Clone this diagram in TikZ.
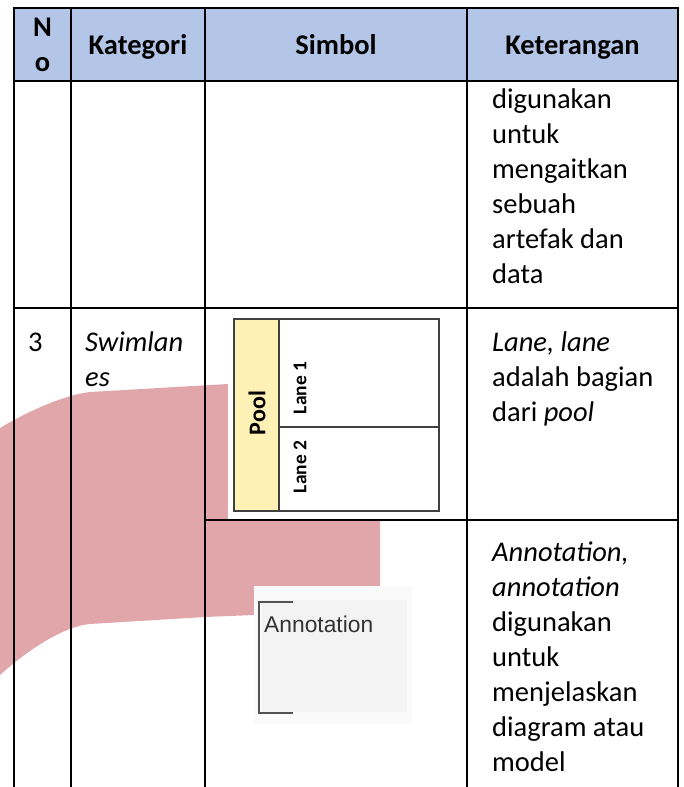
\documentclass[tikz,border=0pt]{standalone}
\usepackage{fontspec}
\setmainfont{Carlito}
\newfontfamily\arialfont{Liberation Sans}
\definecolor{headblue}{HTML}{B4C6E7}
\definecolor{ribbon}{RGB}{225,166,169}
\definecolor{poolyellow}{HTML}{FFF1B5}
\definecolor{symline}{HTML}{404040}
\definecolor{notegray}{HTML}{F3F3F3}
\begin{document}
\begin{tikzpicture}[x=1pt,y=-1pt,
  rule/.style={line width=2.2pt, line cap=rect},
  cell/.style={anchor=base west, inner sep=0pt, font=\fontsize{28.5}{35}\selectfont},
  head/.style={anchor=base, inner sep=0pt, font=\fontsize{28.5}{35}\selectfont\bfseries},
  poollabel/.style={rotate=90, inner sep=0pt, font=\fontsize{24}{28}\selectfont\bfseries},
  lanelabel/.style={rotate=90, inner sep=0pt, font=\fontsize{19.5}{24}\selectfont\bfseries}]
\useasboundingbox (0,0) rectangle (684,787);
\fill[white] (0,0) rectangle (684,787);

% header band
\fill[headblue] (14,8) rectangle (678,81);

% pink ribbon running behind the lower rows
\fill[ribbon] (0,428) .. controls (30,410) and (65,395) .. (90,392)
  -- (228,384) -- (380,381) -- (380,613) -- (254,615) -- (205,617)
  -- (90,624) .. controls (65,626) and (30,648) .. (0,675) -- cycle;

% pool / lane symbol
\fill[white] (228,308) rectangle (445,519);
\fill[poolyellow] (234,319) rectangle (279,511);
\draw[symline, line width=1.6pt] (234,319) rectangle (439,511);
\draw[symline, line width=1.6pt] (279,319) -- (279,511);
\draw[symline, line width=1.6pt] (279,427) -- (439,427);
\node[poollabel] (pool) at (257,413) {Pool};
\node[lanelabel] (lane1) at (300,388) {Lane 1};
\node[lanelabel] (lane2) at (300,467) {Lane 2};

% text annotation symbol
\fill[white!98!black] (254,586) rectangle (412,724);
\fill[notegray] (262,600) rectangle (407,712);
\draw[symline!90, line width=2.4pt] (293,602) -- (259,602) -- (259,713) -- (293,713);
\node[anchor=base west, inner sep=0pt, text=black!80,
  font=\arialfont\fontsize{22.8}{26}\selectfont] (note) at (264,632) {Annotation};

% table rules
\draw[rule] (14,8) -- (678,8);
\draw[rule] (14,81) -- (678,81);
\draw[rule] (14,308) -- (678,308);
\draw[rule] (205,520) -- (678,520);
\foreach \x in {14,71,205,467,678}
  \draw[rule] (\x,8) -- (\x,787);

% header labels
\node[head] (hno1) at (42.5,36) {N};
\node[head] (hno2) at (42.5,71) {o};
\node[head] (hkat) at (138,54) {Kategori};
\node[head] (hsim) at (336,54) {Simbol};
\node[head] (hket) at (572.5,54) {Keterangan};

% first row (continued description)
\node[cell] (k1a) at (492,108) {digunakan};
\node[cell] (k1b) at (492,143) {untuk};
\node[cell] (k1c) at (492,178) {mengaitkan};
\node[cell] (k1d) at (492,213) {sebuah};
\node[cell] (k1e) at (492,248) {artefak dan};
\node[cell] (k1f) at (492,283) {data};

% swimlanes row
\node[cell] (no3) at (28,351) {3};
\node[cell] (kat3a) at (85,351) {\itshape Swimlan};
\node[cell] (kat3b) at (85,386) {\itshape es};
\node[cell] (k3a) at (492,351) {\itshape Lane, lane};
\node[cell] (k3b) at (492,386) {adalah bagian};
\node[cell] (k3c) at (492,421) {dari \textit{pool}};

% annotation row
\node[cell] (k4a) at (492,561) {\itshape Annotation,};
\node[cell] (k4b) at (492,596) {\itshape annotation};
\node[cell] (k4c) at (492,631) {digunakan};
\node[cell] (k4d) at (492,666) {untuk};
\node[cell] (k4e) at (492,701) {menjelaskan};
\node[cell] (k4f) at (492,736) {diagram atau};
\node[cell] (k4g) at (492,771) {model};
\end{tikzpicture}
\end{document}
